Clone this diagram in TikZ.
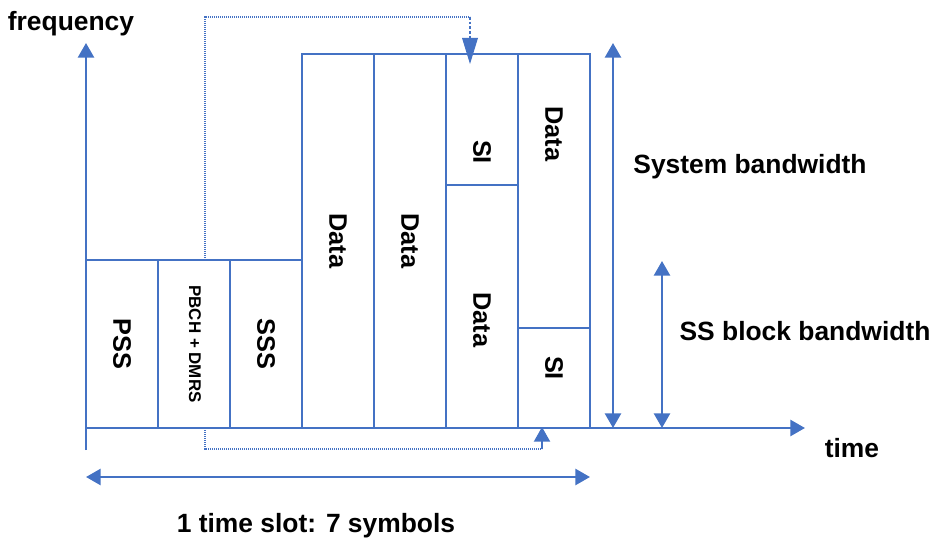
\documentclass[tikz,border=0pt]{standalone}
\usepackage{fontspec}
\setmainfont{Liberation Sans}
\usetikzlibrary{arrows.meta}
\definecolor{lineblue}{HTML}{4472C4}
\begin{document}
\begin{tikzpicture}[x=0.75pt,y=-0.75pt,
  cell/.style={draw=lineblue, line width=1.5pt},
  axisline/.style={draw=lineblue, line width=2pt},
  tipend/.style={-{Triangle[width=12pt,length=11pt]}},
  bothtips/.style={{Triangle[width=12pt,length=11pt]}-{Triangle[width=12pt,length=11pt]}},
  guide/.style={draw=lineblue, line width=0.8pt, dash pattern=on 0.8pt off 0.7pt},
  vlab/.style={font=\bfseries\fontsize{19}{19}\selectfont, rotate=-90, inner sep=0pt},
  vsmall/.style={font=\bfseries\fontsize{12.7}{13}\selectfont, rotate=-90, inner sep=0pt},
  hlab/.style={font=\bfseries\fontsize{19.8}{20}\selectfont, anchor=base, inner sep=0pt}]
\useasboundingbox[fill=white] (0,0) rectangle (932,538);

% resource grid of one slot
\draw[cell] (86,260) rectangle (158,428);
\draw[cell] (158,260) rectangle (230,428);
\draw[cell] (230,260) rectangle (302,428);
\draw[cell] (302,54) rectangle (374,428);
\draw[cell] (374,54) rectangle (446,428);
\draw[cell] (446,54) rectangle (518,185);
\draw[cell] (446,185) rectangle (518,428);
\draw[cell] (518,54) rectangle (590,328);
\draw[cell] (518,328) rectangle (590,428);

% cell labels
\node[vlab] (pss) at (122,344) {PSS};
\node[vsmall] (pbch) at (195,344) {PBCH + DMRS};
\node[vlab] (sss) at (266,344) {SSS};
\node[vlab] (data1) at (338,241) {Data};
\node[vlab] (data2) at (410,241) {Data};
\node[vlab] (si1) at (482,152) {SI};
\node[vlab] (data3) at (482,320) {Data};
\node[vlab] (data4) at (554,134) {Data};
\node[vlab] (si2) at (554,368) {SI};

% axes
\coordinate (origin) at (86,428);
\coordinate (vbottom) at (86,450);
\coordinate (vtop) at (86,43);
\coordinate (hend) at (805,428);
\draw[axisline, tipend] (vbottom) -- (vtop);
\draw[axisline, tipend] (origin) -- (hend);

% bandwidth arrows
\coordinate (sysTop) at (613,43);
\coordinate (sysBot) at (613,428);
\coordinate (ssbTop) at (662,261);
\coordinate (ssbBot) at (662,428);
\draw[axisline, bothtips] (sysTop) -- (sysBot);
\draw[axisline, bothtips] (ssbTop) -- (ssbBot);

% slot length
\coordinate (slotL) at (86,477);
\coordinate (slotR) at (590,477);
\draw[axisline, bothtips] (slotL) -- (slotR);

% guide lines from the PBCH symbol
\coordinate (gTopA) at (205,260);
\coordinate (gTopB) at (205,17);
\coordinate (gTopC) at (470,17);
\coordinate (gTopD) at (470,38);
\coordinate (gTopTip) at (470,64);
\draw[guide] (gTopA) -- (gTopB) -- (gTopC);
\draw[draw=lineblue, line width=2pt, dash pattern=on 2pt off 1.5pt] (gTopC) -- (gTopD);
\fill[lineblue] (462,38) -- (478,38) -- (gTopTip) -- cycle;

\coordinate (gBotA) at (205,430);
\coordinate (gBotB) at (205,449);
\coordinate (gBotC) at (542,449);
\coordinate (gBotTip) at (542,427);
\draw[guide] (gBotA) -- (gBotB) -- (gBotC);
\draw[draw=lineblue, line width=1.5pt, tipend] (gBotC) -- (gBotTip);

% axis and dimension texts
\node[hlab] (freq) at (71,31) {frequency};
\node[hlab] (time) at (852,457) {time};
\node[hlab] (sysbw) at (750,174) {System bandwidth};
\node[hlab] (ssbbw) at (805,341) {SS block bandwidth};
\node[hlab] (slot) at (316,532) {1 time slot: 7 symbols};
\end{tikzpicture}
\end{document}
